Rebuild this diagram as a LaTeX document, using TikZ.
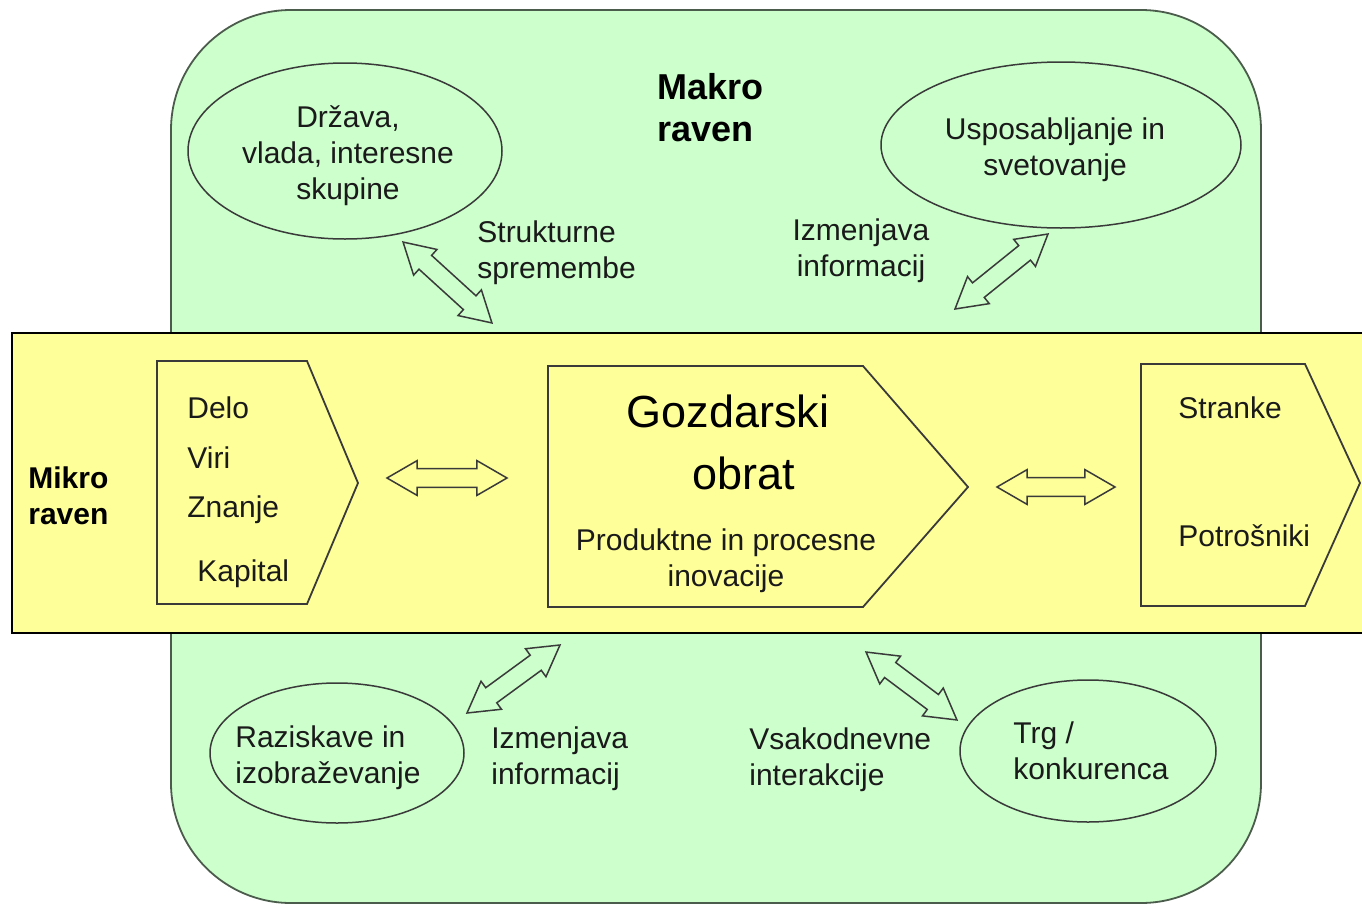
\documentclass[tikz,border=0pt]{standalone}
\usepackage{fontspec}
\setmainfont{Liberation Sans}
\usetikzlibrary{shapes.geometric,shapes.arrows,calc}
\definecolor{grn}{HTML}{CCFFCC}
\definecolor{ylw}{HTML}{FFFF99}
\definecolor{edgec}{HTML}{3A3A3A}
\definecolor{greenedge}{HTML}{4C5C4C}
\definecolor{txtc}{HTML}{1A1A1A}
\newcommand\dblarr[4]{%
  \path let \p1=(#3), \p2=(#4), \n1={atan2(\y2-\y1,\x2-\x1)}, \n2={veclen(\x2-\x1,\y2-\y1)} in
   ($(#3)!0.5!(#4)$) node[dbl, fill=#2, rotate=\n1, minimum height=\n2] (#1) {};}
\begin{document}
\begin{tikzpicture}[x=0.5pt,y=-0.5pt,
  txt/.style={font=\fontsize{15}{18}\selectfont, inner sep=0pt, text=txtc},
  bigtxt/.style={font=\fontsize{22.5}{27}\selectfont, inner sep=0pt, text=black},
  boldtxt/.style={font=\bfseries\fontsize{15}{18}\selectfont, inner sep=0pt, align=left},
  ell/.style={ellipse, draw=edgec, line width=0.75pt, fill=grn, inner sep=0pt},
  pent/.style={draw=edgec, line width=0.9pt, fill=ylw},
  dbl/.style={double arrow, draw=edgec, line width=0.75pt, inner xsep=0pt, inner ysep=4.3pt,
     minimum width=16.5pt, double arrow head extend=4pt, double arrow tip angle=60}
]
\useasboundingbox (0,0) rectangle (1362,905);
\clip (0,0) rectangle (1362,905);
\fill[white] (0,0) rectangle (1362,905);
% green macro area
\draw[greenedge, line width=0.9pt, fill=grn, rounded corners=60pt] (171,10) rectangle (1261,903);
\node[font=\bfseries\fontsize{18}{21}\selectfont, inner sep=0pt, align=left, anchor=west] (makro) at (657,108) {Makro\\raven};
% ellipses
\node[ell, minimum width=157pt, minimum height=88pt] (drzava) at (345,151) {};
\node[txt, align=center] (drzavat) at (348,156) {Država,\\vlada, interesne\\skupine};
\node[ell, minimum width=180pt, minimum height=83pt] (uspos) at (1061,145) {};
\node[txt, align=center] (usposabt) at (1055,150) {Usposabljanje in\\svetovanje};
\node[ell, minimum width=127pt, minimum height=70pt] (razisk) at (337,753) {};
\node[txt, align=left, anchor=west] (raziskt) at (235,758) {Raziskave in\\izobraževanje};
\node[ell, minimum width=128pt, minimum height=71pt] (trg) at (1088,751) {};
\node[txt, align=left, anchor=west] (trgt) at (1013,751) {Trg /\\konkurenca};
% labels
\node[txt, align=left, anchor=west] (strukt) at (477,253) {Strukturne\\spremembe};
\node[txt, align=center] (izm1) at (861,251) {Izmenjava\\informacij};
\node[txt, align=left, anchor=west] (izm2) at (491,759) {Izmenjava\\informacij};
\node[txt, align=left, anchor=west] (vsak) at (749,760) {Vsakodnevne\\interakcije};
% top diagonal arrows
\coordinate (a1s) at (403,242); \coordinate (a1e) at (492,323);
\coordinate (a2s) at (955,309); \coordinate (a2e) at (1048,234);
\dblarr{arr1}{grn}{a1s}{a1e}
\dblarr{arr2}{grn}{a2s}{a2e}
% micro band
\draw[black, line width=1pt, fill=ylw] (12,333) rectangle (1375,633);
\node[boldtxt, anchor=west] (mikro) at (28,496) {Mikro\\raven};
% pentagons
\draw[pent] (157,361) -- (307,361) -- (358,483) -- (307,604) -- (157,604) -- cycle;
\draw[pent] (548,366) -- (863,366) -- (968,487) -- (863,607) -- (548,607) -- cycle;
\draw[pent] (1141,364) -- (1305,364) -- (1360,483) -- (1305,606) -- (1141,606) -- cycle;
\node[txt, anchor=west] (delo) at (187,408) {Delo};
\node[txt, anchor=west] (viri) at (187,458) {Viri};
\node[txt, anchor=west] (znanje) at (187,510) {Znanje};
\node[txt, anchor=west] (kapital) at (197,574) {Kapital};
\node[bigtxt] (gozd) at (728,411) {Gozdarski};
\node[bigtxt] (obrat) at (744,473) {obrat};
\node[txt, align=center] (prod) at (726,561) {Produktne in procesne\\inovacije};
\node[txt, anchor=west] (stranke) at (1178,408) {Stranke};
\node[txt, anchor=west] (potr) at (1178,536) {Potrošniki};
% horizontal arrows
\coordinate (h1s) at (387,478); \coordinate (h1e) at (507,478);
\coordinate (h2s) at (997,487); \coordinate (h2e) at (1115,487);
\dblarr{harr1}{ylw}{h1s}{h1e}
\dblarr{harr2}{ylw}{h2s}{h2e}
% bottom diagonal arrows
\coordinate (a3s) at (467,713); \coordinate (a3e) at (560,645);
\coordinate (a4s) at (866,652); \coordinate (a4e) at (957,720);
\dblarr{arr3}{grn}{a3s}{a3e}
\dblarr{arr4}{grn}{a4s}{a4e}
\end{tikzpicture}
\end{document}
